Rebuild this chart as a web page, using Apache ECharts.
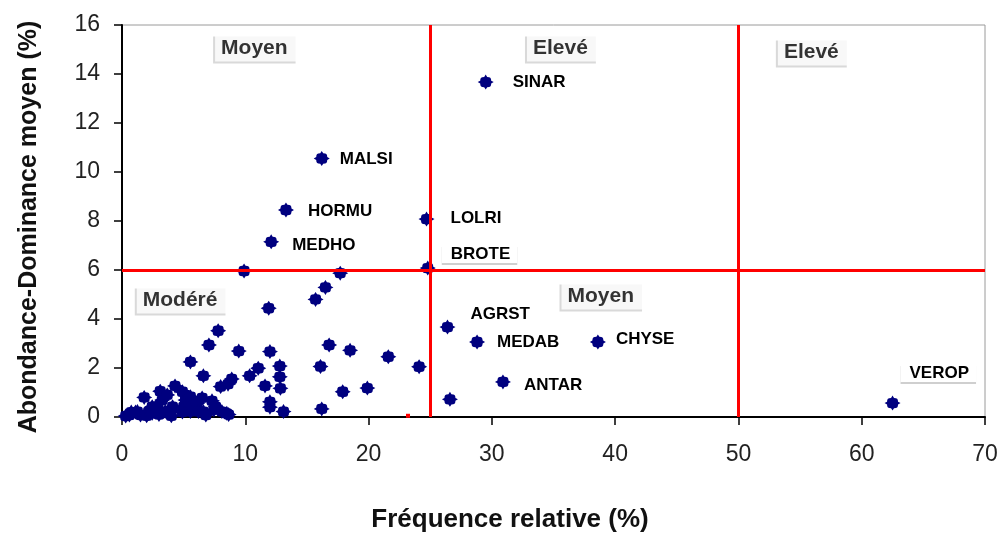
<!DOCTYPE html>
<html>
<head>
<meta charset="utf-8">
<script src="https://cdn.jsdelivr.net/npm/echarts@6/dist/echarts.min.js"></script>
<style>html,body{margin:0;padding:0;background:#fff}#chart{width:998px;height:537px}</style>
</head>
<body>
<div id="chart"></div>
<script>
// ---- Data ----
const xTicks = [0, 10, 20, 30, 40, 50, 60, 70];
const yTicks = [0, 2, 4, 6, 8, 10, 12, 14, 16];
const labeledNames = ['SINAR','MALSI','HORMU','MEDHO','LOLRI','BROTE','AGRST','MEDAB','CHYSE','ANTAR','VEROP'];
const labeledFreq  = [29.5, 16.2, 13.3, 12.1, 24.7, 24.8, 26.4, 28.8, 38.6, 30.9, 62.5];
const labeledAD    = [13.67, 10.55, 8.45, 7.15, 8.08, 6.08, 3.67, 3.06, 3.06, 1.43, 0.57];
const otherFreq = [
  9.9, 11.9, 15.7, 16.5, 17.7, 7.8, 7.05, 9.47, 12.0, 16.8, 18.5, 21.6, 24.1,
  16.1, 12.8, 11.05, 10.35, 12.8, 5.55, 6.6, 8.9, 11.6, 12.85, 17.9, 19.9, 12.0, 12.0, 13.1, 16.2,
  26.6, 8.0, 8.6,
  0.3, 0.6, 0.75, 1.1, 1.5, 1.25, 1.8, 2.15, 2.0, 2.45, 2.45, 2.75, 3.0, 3.1, 3.26, 3.5, 3.67, 3.9,
  4.0, 4.1, 4.3, 4.9, 4.9, 5.0, 5.15, 5.15, 5.4, 5.55, 5.55, 5.7, 6.1, 6.2, 6.5, 6.6, 6.8, 7.3,
  7.45, 7.6, 8.1, 8.5, 8.65
];
const otherAD = [
  5.96, 4.44, 4.8, 5.29, 5.87, 3.52, 2.94, 2.69, 2.67, 2.94, 2.72, 2.46, 2.05,
  2.06, 2.08, 1.99, 1.68, 1.64, 2.25, 1.68, 1.55, 1.27, 1.17, 1.03, 1.18, 0.62, 0.40, 0.22, 0.33,
  0.72, 1.24, 1.34,
  0.04, 0.08, 0.2, 0.2, 0.08, 0.22, 0.8, 0.22, 0.05, 0.42, 0.15, 0.42, 0.1, 1.05, 0.69, 0.22, 0.9, 0.22,
  0.05, 0.42, 1.27, 1.03, 0.2, 0.42, 0.9, 0.69, 0.57, 0.83, 0.22, 0.42, 0.56, 0.22, 0.78, 0.22, 0.08, 0.66,
  0.29, 0.42, 0.22, 0.15, 0.1
];
const strayFreq = [23.2];
const strayAD = [0.05];
const thresholdFreq = [25, 50];
const thresholdAD = [6];
const zoneNames = ['Moyen', 'Elevé', 'Elevé', 'Modéré', 'Moyen'];

// ---- Styling / placement config ----
const zoneAnchors = [[7.55, 15.06], [32.85, 15.06], [53.2, 14.9], [1.2, 4.78], [35.65, 4.94]];
const labelPlace = {
  SINAR: {d: 19, o: [0, 0]},
  MALSI: {d: 10, o: [0, 1]},
  HORMU: {d: 14, o: [0, 1]},
  MEDHO: {d: 13, o: [0, 3]},
  LOLRI: {d: 16, o: [0, -1]},
  BROTE: {d: 6, o: [0, -14], u: true},
  AGRST: {d: 15, o: [0, -13]},
  MEDAB: {d: 12, o: [0, 0]},
  CHYSE: {d: 10, o: [0, -3]},
  ANTAR: {d: 13, o: [0, 3]},
  VEROP: {d: 0, o: [0, -30], u: true}
};
const NAVY = '#00007f';
const markerPath = 'path://M0,-8 L1.5,-5.5 C4.5,-5.5 5.5,-4.5 5.5,-1.5 L8,0 L5.5,1.5 C5.5,4.5 4.5,5.5 1.5,5.5 L0,8 L-1.5,5.5 C-4.5,5.5 -5.5,4.5 -5.5,1.5 L-8,0 L-5.5,-1.5 C-5.5,-4.5 -4.5,-5.5 -1.5,-5.5 Z';
const FONT = "'Liberation Sans', Arial, sans-serif";

const labeledData = labeledNames.map((n, i) => {
  const p = labelPlace[n];
  const lab = {
    show: true, position: 'right', distance: p.d, offset: p.o,
    formatter: n, fontFamily: FONT, fontWeight: 'bold', fontSize: 17, color: '#000'
  };
  if (p.u) {
    Object.assign(lab, {
      backgroundColor: '#fff', padding: [0, 7, 1, 9],
      shadowColor: '#cfcfcf', shadowBlur: 0, shadowOffsetX: 0, shadowOffsetY: 2
    });
  }
  return {name: n, value: [labeledFreq[i], labeledAD[i]], label: lab};
});
const otherData = otherFreq.map((x, i) => [x, otherAD[i]]);
const strayData = strayFreq.map((x, i) => [x, strayAD[i]]);
const zoneData = zoneNames.map((n, i) => ({name: n, value: zoneAnchors[i]}));

const chart = echarts.init(document.getElementById('chart'), null, {renderer: 'canvas'});
chart.setOption({
  animation: false,
  backgroundColor: '#fff',
  grid: {left: 122, right: 13, top: 25, bottom: 120, containLabel: false, outerBoundsMode: 'none',
         show: true, borderColor: '#9a9a9a', borderWidth: 1, backgroundColor: '#fff'},
  xAxis: {
    type: 'value', min: xTicks[0], max: xTicks[xTicks.length - 1], interval: xTicks[1] - xTicks[0],
    splitLine: {show: false},
    axisLine: {lineStyle: {color: '#000', width: 2}},
    axisTick: {show: true, length: 8, lineStyle: {color: '#000', width: 1.5}},
    axisLabel: {fontFamily: FONT, fontSize: 23, color: '#222', margin: 26},
    name: 'Fréquence relative (%)', nameLocation: 'middle', nameGap: 90,
    nameTextStyle: {fontFamily: FONT, fontWeight: 'bold', fontSize: 26, color: '#111', padding: [0, 87, 0, 0]}
  },
  yAxis: {
    type: 'value', min: yTicks[0], max: yTicks[yTicks.length - 1], interval: yTicks[1] - yTicks[0],
    splitLine: {show: false},
    axisLine: {lineStyle: {color: '#000', width: 2}},
    axisTick: {show: true, length: 8, lineStyle: {color: '#000', width: 1.5}},
    axisLabel: {fontFamily: FONT, fontSize: 23, color: '#222', margin: 22},
    name: 'Abondance-Dominance moyen (%)', nameLocation: 'middle', nameGap: 80, nameRotate: 90,
    nameTextStyle: {fontFamily: FONT, fontWeight: 'bold', fontSize: 25, color: '#111', padding: [0, 12, 0, 0]}
  },
  series: [
    {
      type: 'scatter', name: 'others', data: otherData, symbol: markerPath, symbolSize: [16, 15],
      itemStyle: {color: NAVY, opacity: 1}, z: 3,
      markLine: {
        silent: true, symbol: 'none', label: {show: false},
        lineStyle: {color: '#ff0000', width: 3, type: 'solid', opacity: 1},
        data: thresholdFreq.map(v => ({xAxis: v})).concat(thresholdAD.map(v => ({yAxis: v})))
      }
    },
    {
      type: 'scatter', name: 'labeled', data: labeledData, symbol: markerPath, symbolSize: [16, 15],
      itemStyle: {color: NAVY, opacity: 1}, z: 4
    },
    {
      type: 'scatter', name: 'stray', data: strayData, symbol: 'rect', symbolSize: [4, 4],
      itemStyle: {color: '#ff0000', opacity: 1}, z: 3
    },
    {
      type: 'scatter', name: 'zones', data: zoneData, symbolSize: 0, silent: true, z: 5,
      label: {
        show: true, position: 'right', distance: 0, formatter: '{b}',
        fontFamily: FONT, fontWeight: 'bold', fontSize: 21, color: '#000',
        backgroundColor: '#fff', padding: [3, 10, 3, 6],
        shadowColor: '#cfcfcf', shadowBlur: 0, shadowOffsetX: -2, shadowOffsetY: 2
      }
    }
  ]
});
</script>
</body>
</html>
